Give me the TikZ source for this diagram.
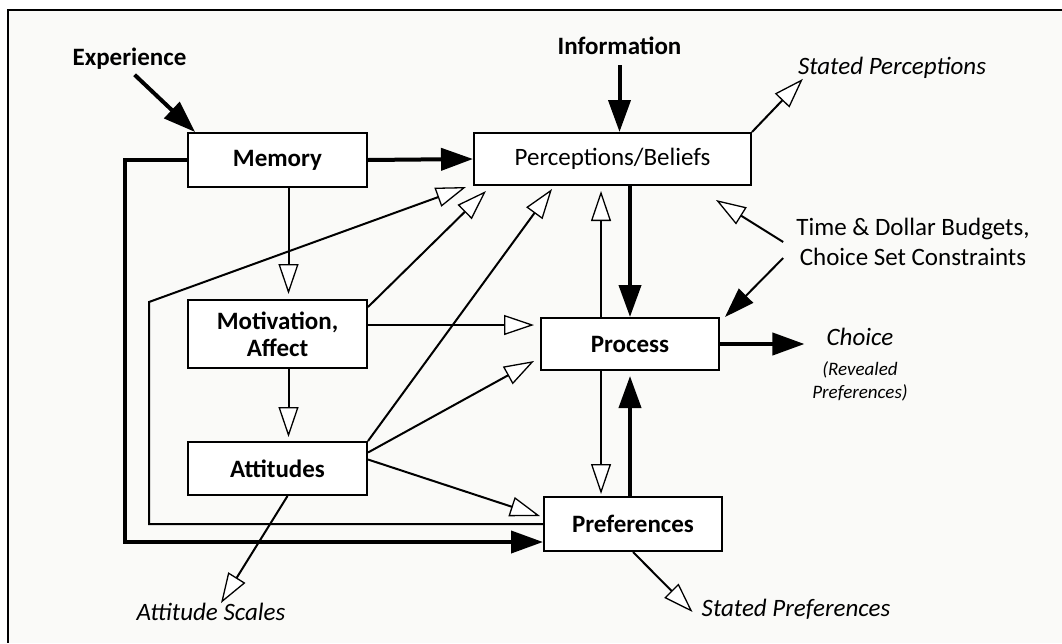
\documentclass[tikz,border=0pt]{standalone}
\usepackage{fontspec}
\setmainfont{Carlito}
\usetikzlibrary{arrows.meta}
\definecolor{paper}{RGB}{250,250,248}
\tikzset{
  box/.style = {draw, line width = 2pt, fill = white, align = center, inner sep = 0pt,
    font = \bfseries\fontsize{25}{27}\selectfont},
  lbl/.style = {inner sep = 0pt, align = center, font = \fontsize{25}{30}\selectfont},
  ital/.style = {inner sep = 0pt, align = center, font = \itshape\fontsize{25}{27}\selectfont},
  heavy/.style = {line width = 4pt, -{Triangle[length = 32pt, width = 22pt]}},
  thinfill/.style = {line width = 2pt, -{Triangle[length = 30pt, width = 20pt]}},
  hollow/.style = {line width = 2pt,
    -{Triangle[open, fill = white, length = 30pt, width = 20pt, line width = 1.3pt]}}
}
\begin{document}
\begin{tikzpicture}[x = 1pt, y = -1pt]
    \useasboundingbox (0,0) rectangle (1062,643);
    \fill[paper] (8,10) rectangle (1062,643);
    \draw[line width = 1.5pt] (1062,10) -- (8,10) -- (8,643);
    \node[box, minimum width = 179pt, minimum height = 54pt] (mem) at (277.5,160) {Memory};
    \node[box, minimum width = 277pt, minimum height = 52pt,
      font = \fontsize{25}{27}\selectfont] (pb) at (612.5,159) {Perceptions/Beliefs};
    \node[box, minimum width = 179pt, minimum height = 68pt] (mot) at (277.5,334) {Motivation,\\Affect};
    \node[box, minimum width = 179pt, minimum height = 53pt] (att) at (277.5,468.5) {Attitudes};
    \node[box, minimum width = 178pt, minimum height = 52pt] (proc) at (630,344) {Process};
    \node[box, minimum width = 178pt, minimum height = 54pt] (pref) at (633,524) {Preferences};
    \node[lbl, font = \bfseries\fontsize{25}{27}\selectfont] (exper) at (129.5,59) {Experience};
    \node[lbl, font = \bfseries\fontsize{25}{27}\selectfont] (info) at (619.5,46) {Information};
    \node[ital] (statperc) at (892,68) {Stated Perceptions};
    \node[lbl] (budget) at (913,242) {Time \& Dollar Budgets,\\Choice Set Constraints};
    \node[ital] (choice) at (860,337) {Choice};
    \node[ital, font = \itshape\fontsize{19}{23}\selectfont] (revealed) at (860,381) {(Revealed\\Preferences)};
    \node[ital] (attscale) at (211,612) {Attitude Scales};
    \node[ital] (statpref) at (796,609) {Stated Preferences};
    \begin{scope}[style = heavy]
        \draw[shorten <= 7pt] (exper.south) -- ([xshift = 8pt]mem.north west);
        \draw (mem.east) -- (pb.west);
        \draw[shorten <= 10pt] (info.south) -- (info.south |- pb.north);
        \draw (proc.north |- pb.south) -- (proc.north);
        \draw (proc.east) -- ([xshift = -22pt]choice.west |- proc.east);
        \draw[shorten >= 5pt] (proc.south |- pref.north) -- (proc.south);
        \draw (mem.west) -| (125,542) -- ([yshift = -18pt]pref.west);
    \end{scope}
    \draw[thinfill] ([xshift = -13pt, yshift = -16pt]budget.west) -- ([xshift = 5pt]proc.north east);
    \begin{scope}[style = hollow]
        \draw[shorten >= 5pt] ([xshift = 11pt]mem.south) -- ([xshift = 11pt]mem.south |- mot.north);
        \draw[shorten >= 4pt] ([xshift = 11pt]mot.south) -- ([xshift = 11pt]mot.south |- att.north);
        \draw (pref.west) -| (149,302) -- ([xshift = -7pt, yshift = -1pt]pb.south west);
        \draw ([yshift = -8pt]mot.north east) -- ([xshift = 13pt, yshift = -5pt]pb.south west);
        \draw ([yshift = 9pt]mot.east) -- ([xshift = -6pt, yshift = 9pt]mot.east -| proc.west);
        \draw (att.north east) -- ([xshift = 79pt, yshift = -3pt]pb.south west);
        \draw ([yshift = 16pt]att.east) -- ([xshift = -6pt, yshift = -17pt]proc.west);
        \draw ([yshift = 9pt]att.east) -- ([xshift = -3pt, yshift = 8pt]pref.west);
        \draw ([xshift = 10pt]att.south) -- ([xshift = 10pt]attscale.north);
        \draw (pb.north east) -- ([xshift = 5pt]statperc.south west);
        \draw ([xshift = -13pt]budget.west) -- ([xshift = -36pt, yshift = -14pt]pb.south east);
        \draw[shorten >= 5pt] ([xshift = -29pt]proc.north) -- ([xshift = -29pt]proc.north |- pb.south);
        \draw[shorten >= 2pt] ([xshift = -29pt]proc.south) -- ([xshift = -29pt]proc.south |- pref.north);
        \draw (pref.south) -- ([xshift = -9pt, yshift = -3pt]statpref.west);
    \end{scope}
\end{tikzpicture}
\end{document}
